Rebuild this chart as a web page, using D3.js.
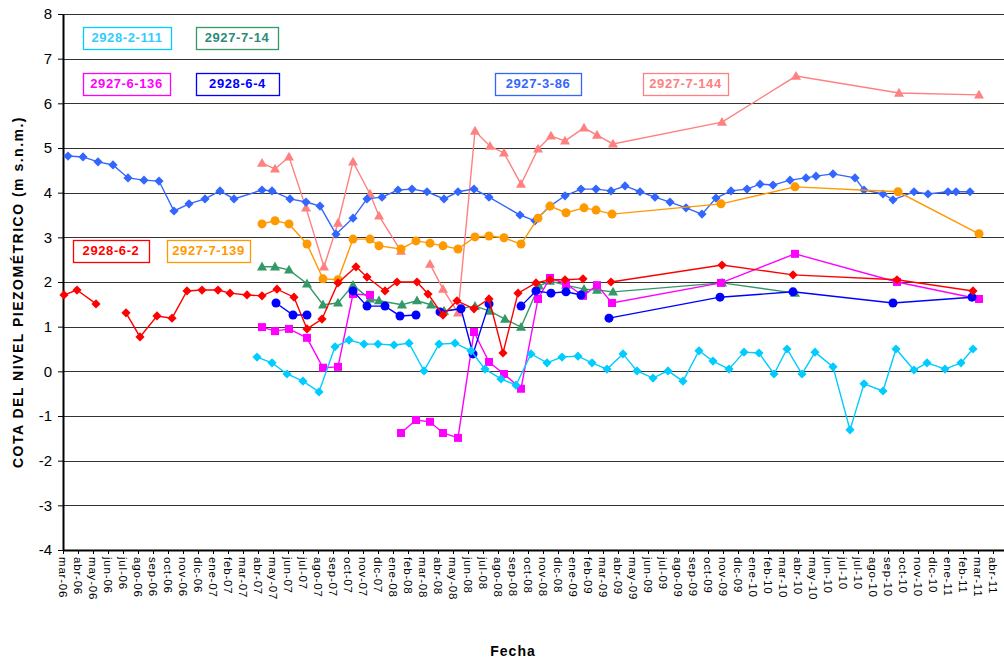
<!DOCTYPE html>
<html>
<head>
<meta charset="utf-8">
<script src="https://cdn.jsdelivr.net/npm/d3@7"></script>
<style>
body { margin: 0; background: #fff; }
svg { display: block; font-family: Arial, "Liberation Sans", sans-serif; }
</style>
</head>
<body>
<div id="main"></div>
<script>
const w = 1004, h = 666
const plotLeft = 63, plotRight = 1004, plotTop = 14, plotBottom = 550

// axis values
const yTicks = d3.range(-4, 9)
const monthNames = ['ene', 'feb', 'mar', 'abr', 'may', 'jun', 'jul', 'ago', 'sep', 'oct', 'nov', 'dic']
const axisStart = '2006-03-24', tickStepDays = 30, tickCount = 63, axisSpanDays = 1882

// series: [fecha, cota]  (null = sin medida)
const s2928_6_2 = [
  ['2006-03-26', 1.71], ['2006-04-21', 1.82], ['2006-05-29', 1.51], ['2006-06-28', null], ['2006-07-28', 1.31],
  ['2006-08-25', 0.77], ['2006-09-28', 1.24], ['2006-10-28', 1.19], ['2006-11-27', 1.80], ['2006-12-27', 1.82],
  ['2007-01-28', 1.82], ['2007-02-21', 1.75], ['2007-03-27', 1.71], ['2007-04-26', 1.69], ['2007-05-26', 1.84],
  ['2007-06-29', 1.66], ['2007-07-25', 0.95], ['2007-08-24', 1.17], ['2007-09-25', 1.98], ['2007-10-31', 2.34],
  ['2007-11-22', 2.11], ['2007-12-28', 1.80], ['2008-01-21', 2.00], ['2008-03-01', 2.00], ['2008-03-23', 1.73],
  ['2008-04-22', 1.26], ['2008-05-20', 1.58], ['2008-06-23', 1.40], ['2008-07-23', 1.62], ['2008-08-20', 0.41],
  ['2008-09-19', 1.75], ['2008-10-25', 1.98], ['2008-11-22', 2.05], ['2008-12-22', 2.05], ['2009-01-27', 2.07],
  ['2009-02-24', null], ['2009-03-24', 2.00], ['2009-11-01', 2.38], ['2010-03-23', 2.16], ['2010-10-17', 2.05],
  ['2011-03-18', 1.80]
]

const s2927_7_139 = [
  ['2007-04-26', 3.30], ['2007-05-22', 3.37], ['2007-06-19', 3.30], ['2007-07-25', 2.85], ['2007-08-26', 2.07],
  ['2007-09-25', 2.05], ['2007-10-25', 2.96], ['2007-11-28', 2.96], ['2007-12-16', 2.81], ['2008-01-29', 2.74],
  ['2008-02-28', 2.92], ['2008-03-27', 2.87], ['2008-04-22', 2.81], ['2008-05-22', 2.74], ['2008-06-25', 3.01],
  ['2008-07-23', 3.03], ['2008-08-22', 2.99], ['2008-09-25', 2.85], ['2008-10-29', 3.43], ['2008-11-22', 3.70],
  ['2008-12-24', 3.55], ['2009-01-29', 3.66], ['2009-02-22', 3.61], ['2009-03-26', 3.52], ['2009-10-30', 3.75],
  ['2010-03-27', 4.13], ['2010-10-19', 4.02], ['2011-03-30', 3.08]
]

const s2927_7_144 = [
  ['2007-04-26', 4.66], ['2007-05-22', 4.53], ['2007-06-19', 4.80], ['2007-07-23', 3.66], ['2007-08-28', 2.34],
  ['2007-09-25', 3.32], ['2007-10-25', 4.69], ['2007-11-28', 3.97], ['2007-12-16', 3.48], ['2008-01-29', 2.69],
  ['2008-02-28', null], ['2008-03-27', 2.40], ['2008-04-22', 1.84], ['2008-05-22', 1.31], ['2008-06-25', 5.38],
  ['2008-07-25', 5.04], ['2008-08-22', 4.89], ['2008-09-25', 4.19], ['2008-10-29', 4.98], ['2008-11-24', 5.27],
  ['2008-12-22', 5.16], ['2009-01-29', 5.45], ['2009-02-24', 5.29], ['2009-03-28', 5.09], ['2009-11-01', 5.58],
  ['2010-03-29', 6.61], ['2010-10-21', 6.23], ['2011-03-30', 6.19]
]

const s2927_7_14 = [
  ['2007-04-26', 2.34], ['2007-05-22', 2.34], ['2007-06-19', 2.27], ['2007-07-25', 1.96], ['2007-08-26', 1.49],
  ['2007-09-25', 1.53], ['2007-10-25', 1.93], ['2007-11-28', 1.62], ['2007-12-16', 1.58], ['2008-01-31', 1.49],
  ['2008-03-01', 1.58], ['2008-03-29', 1.49], ['2008-04-24', 1.35], ['2008-06-25', 1.46], ['2008-07-25', 1.35],
  ['2008-08-24', 1.17], ['2008-09-25', 0.99], ['2008-10-31', 1.91], ['2008-11-22', 2.02], ['2008-12-24', 1.93],
  ['2009-01-29', 1.84], ['2009-02-24', 1.82], ['2009-03-28', 1.78], ['2009-11-01', 1.98], ['2010-03-27', 1.75]
]

const s2928_6_4 = [
  ['2007-05-24', 1.53], ['2007-06-27', 1.26], ['2007-07-25', 1.26], ['2007-08-26', null], ['2007-10-25', 1.80],
  ['2007-11-22', 1.46], ['2007-12-28', 1.46], ['2008-01-27', 1.24], ['2008-02-28', 1.26], ['2008-03-20', null],
  ['2008-04-16', 1.33], ['2008-05-28', 1.40], ['2008-06-21', 0.39], ['2008-07-23', 1.51], ['2008-08-22', null],
  ['2008-09-25', 1.46], ['2008-10-25', 1.80], ['2008-11-24', 1.75], ['2008-12-24', 1.78], ['2009-01-23', 1.71],
  ['2009-02-22', null], ['2009-03-20', 1.19], ['2009-10-28', 1.66], ['2010-03-23', 1.78], ['2010-10-09', 1.53],
  ['2011-03-16', 1.66]
]

const s2927_6_136 = [
  ['2007-04-26', 0.99], ['2007-05-22', 0.90], ['2007-06-19', 0.95], ['2007-07-25', 0.75], ['2007-08-26', 0.08],
  ['2007-09-25', 0.10], ['2007-10-25', 1.73], ['2007-11-28', 1.71], ['2007-12-28', null], ['2008-01-29', -1.38],
  ['2008-02-28', -1.09], ['2008-03-27', -1.13], ['2008-04-22', -1.38], ['2008-05-22', -1.49], ['2008-06-23', 0.88],
  ['2008-07-23', 0.21], ['2008-08-22', -0.06], ['2008-09-25', -0.39], ['2008-10-29', 1.62], ['2008-11-22', 2.09],
  ['2008-12-24', 1.96], ['2009-01-27', 1.69], ['2009-02-24', 1.93], ['2009-03-26', 1.53], ['2009-10-30', 1.98],
  ['2010-03-27', 2.63], ['2010-10-17', 2.00], ['2011-03-30', 1.62]
]

const s2928_2_111 = [
  ['2007-04-16', 0.32], ['2007-05-16', 0.19], ['2007-06-15', -0.06], ['2007-07-17', -0.22], ['2007-08-18', -0.46],
  ['2007-09-19', 0.55], ['2007-10-17', 0.70], ['2007-11-16', 0.61], ['2007-12-14', 0.61], ['2008-01-15', 0.59],
  ['2008-02-14', 0.63], ['2008-03-15', 0.01], ['2008-04-14', 0.61], ['2008-05-16', 0.63], ['2008-06-17', 0.46],
  ['2008-07-15', 0.05], ['2008-08-16', -0.17], ['2008-09-15', -0.31], ['2008-10-15', 0.39], ['2008-11-16', 0.19],
  ['2008-12-16', 0.32], ['2009-01-17', 0.34], ['2009-02-14', 0.19], ['2009-03-16', 0.05], ['2009-04-17', 0.39],
  ['2009-05-15', 0.01], ['2009-06-16', -0.15], ['2009-07-16', 0.01], ['2009-08-15', -0.22], ['2009-09-16', 0.46],
  ['2009-10-14', 0.23], ['2009-11-15', 0.05], ['2009-12-15', 0.43], ['2010-01-14', 0.41], ['2010-02-13', -0.06],
  ['2010-03-11', 0.50], ['2010-04-10', -0.06], ['2010-05-06', 0.43], ['2010-06-11', 0.10], ['2010-07-15', -1.31],
  ['2010-08-12', -0.28], ['2010-09-19', -0.44], ['2010-10-15', 0.50], ['2010-11-20', 0.03], ['2010-12-16', 0.19],
  ['2011-01-21', 0.05], ['2011-02-22', 0.19], ['2011-03-18', 0.50]
]

const s2927_3_86 = [
  ['2006-04-03', 4.82], ['2006-05-03', 4.80], ['2006-06-02', 4.69], ['2006-07-02', 4.62], ['2006-08-01', 4.33],
  ['2006-09-02', 4.28], ['2006-10-02', 4.26], ['2006-11-01', 3.59], ['2006-12-01', 3.75], ['2007-01-02', 3.86],
  ['2007-02-01', 4.04], ['2007-03-01', 3.86], ['2007-04-26', 4.06], ['2007-05-16', 4.04], ['2007-06-21', 3.86],
  ['2007-07-23', 3.79], ['2007-08-20', 3.70], ['2007-09-21', 3.07], ['2007-10-25', 3.43], ['2007-11-22', 3.86],
  ['2007-12-22', 3.90], ['2008-01-23', 4.06], ['2008-02-20', 4.08], ['2008-03-21', 4.02], ['2008-04-24', 3.86],
  ['2008-05-22', 4.02], ['2008-06-23', 4.08], ['2008-07-23', 3.90], ['2008-09-23', 3.50], ['2008-10-23', 3.37],
  ['2008-11-22', 3.70], ['2008-12-22', 3.93], ['2009-01-23', 4.08], ['2009-02-22', 4.08], ['2009-03-24', 4.04],
  ['2009-04-21', 4.15], ['2009-05-21', 4.02], ['2009-06-20', 3.90], ['2009-07-20', 3.79], ['2009-08-21', 3.66],
  ['2009-09-22', 3.52], ['2009-10-20', 3.88], ['2009-11-19', 4.04], ['2009-12-21', 4.08], ['2010-01-16', 4.19],
  ['2010-02-11', 4.17], ['2010-03-17', 4.28], ['2010-04-18', 4.33], ['2010-05-08', 4.37], ['2010-06-11', 4.42],
  ['2010-07-25', 4.33], ['2010-08-12', 4.06], ['2010-09-19', 3.97], ['2010-10-09', 3.84], ['2010-11-20', 4.02],
  ['2010-12-18', 3.97], ['2011-01-27', 4.02], ['2011-02-12', 4.02], ['2011-03-12', 4.02]
]

const series = [
  { name: '2927-7-144', data: s2927_7_144, color: '#ff8080', text: '#ff8080', marker: 'triangle' },
  { name: '2927-3-86', data: s2927_3_86, color: '#3366ff', text: '#3366ff', marker: 'diamond' },
  { name: '2927-7-139', data: s2927_7_139, color: '#ff9900', text: '#ff9900', marker: 'circle' },
  { name: '2927-7-14', data: s2927_7_14, color: '#339966', text: '#2e8b78', marker: 'triangle' },
  { name: '2927-6-136', data: s2927_6_136, color: '#ff00ff', text: '#ff00ff', marker: 'square' },
  { name: '2928-6-4', data: s2928_6_4, color: '#0000ff', text: '#0000ff', marker: 'circle' },
  { name: '2928-2-111', data: s2928_2_111, color: '#00ccff', text: '#33ccff', marker: 'diamond' },
  { name: '2928-6-2', data: s2928_6_2, color: '#ff0000', text: '#ff0000', marker: 'diamond' }
]

// label boxes inside the plot
const boxes = [
  { name: '2928-2-111', x: 83, y: 27, w: 88 },
  { name: '2927-7-14', x: 196, y: 27, w: 82 },
  { name: '2927-6-136', x: 83, y: 73, w: 87 },
  { name: '2928-6-4', x: 196, y: 73, w: 83 },
  { name: '2927-3-86', x: 495, y: 73, w: 86 },
  { name: '2927-7-144', x: 643, y: 73, w: 85 },
  { name: '2928-6-2', x: 73, y: 240, w: 76 },
  { name: '2927-7-139', x: 167, y: 240, w: 83 }
]

const parse = d3.timeParse('%Y-%m-%d')
const start = parse(axisStart)
const tickDates = d3.range(tickCount).map(i => d3.timeDay.offset(start, i * tickStepDays))
const fmt = d => monthNames[d.getMonth()] + '-' + d3.timeFormat('%y')(d)

const xScale = d3.scaleTime()
                .domain([start, d3.timeDay.offset(start, axisSpanDays)])
                .range([plotLeft, plotRight])
const yScale = d3.scaleLinear()
                .domain([-4, 8])
                .range([plotBottom, plotTop])

const svg = d3.select('#main')
            .append('svg')
            .attr('width', w)
            .attr('height', h)

// gridlines
svg.append('g')
    .selectAll('line')
    .data(yTicks.filter(v => v > -4))
    .enter()
    .append('line')
    .attr('x1', plotLeft)
    .attr('x2', plotRight)
    .attr('y1', d => Math.round(yScale(d)) + 0.5)
    .attr('y2', d => Math.round(yScale(d)) + 0.5)
    .attr('stroke', '#333')
    .attr('stroke-width', 1.2)

// axes
const xAxis = d3.axisBottom(xScale)
                .tickValues(tickDates)
                .tickFormat(fmt)
                .tickSize(4)
                .tickSizeOuter(0)
const gx = svg.append('g')
    .attr('transform', 'translate(0,' + plotBottom + ')')
    .call(xAxis)
gx.select('.domain').attr('stroke', '#000').attr('stroke-width', 2)
gx.selectAll('.tick line').attr('stroke', '#000')
gx.selectAll('.tick text')
    .attr('transform', 'rotate(90)')
    .attr('x', 7)
    .attr('y', 0)
    .attr('dy', '0.35em')
    .attr('text-anchor', 'start')
    .style('font-size', '11.5px')
    .style('letter-spacing', '0.8px')
    .attr('fill', '#000')

const yAxis = d3.axisLeft(yScale)
                .tickValues(yTicks)
                .tickFormat(d3.format('d'))
                .tickSize(5)
                .tickPadding(6)
                .tickSizeOuter(0)
const gy = svg.append('g')
    .attr('transform', 'translate(' + plotLeft + ',0)')
    .call(yAxis)
gy.select('.domain').attr('stroke', '#000').attr('stroke-width', 2)
gy.selectAll('.tick line').attr('stroke', '#000')
gy.selectAll('.tick text')
    .style('font-size', '15px')
    .attr('fill', '#000')
    .text(d => d < 0 ? '-' + Math.abs(d) : d)

// markers
const markerPath = {
    diamond: 'M0,-4.6L4.6,0L0,4.6L-4.6,0Z',
    square: 'M-4,-4H4V4H-4Z',
    triangle: 'M0,-5.2L5,3.6H-5Z'
}

const line = d3.line()
    .defined(d => d[1] != null)
    .x(d => xScale(parse(d[0])))
    .y(d => yScale(d[1]))

series.forEach(s => {
    const g = svg.append('g')
    g.append('path')
        .datum(s.data)
        .attr('d', line)
        .attr('fill', 'none')
        .attr('stroke', s.color)
        .attr('stroke-width', 1.4)

    const pts = g.selectAll('.pt')
        .data(s.data.filter(d => d[1] != null))
        .enter()
    if (s.marker == 'circle') {
        pts.append('circle')
            .attr('cx', d => xScale(parse(d[0])))
            .attr('cy', d => yScale(d[1]))
            .attr('r', 4.5)
            .attr('fill', s.color)
    } else {
        pts.append('path')
            .attr('d', markerPath[s.marker])
            .attr('transform', d => 'translate(' + xScale(parse(d[0])) + ',' + yScale(d[1]) + ')')
            .attr('fill', s.color)
    }
})

// label boxes
const byName = {}
series.forEach(s => byName[s.name] = s)
const lg = svg.append('g').attr('id', 'legend')
boxes.forEach(b => {
    const s = byName[b.name]
    lg.append('rect')
        .attr('x', b.x + 0.5)
        .attr('y', b.y + 0.5)
        .attr('width', b.w)
        .attr('height', 22)
        .attr('fill', '#fff')
        .attr('stroke', s.color)
        .attr('stroke-width', 1.3)
    lg.append('text')
        .text(b.name)
        .attr('x', b.x + b.w / 2)
        .attr('y', b.y + 12)
        .attr('text-anchor', 'middle')
        .attr('dominant-baseline', 'middle')
        .attr('fill', s.text)
        .style('font-size', '13px')
        .style('font-weight', 'bold')
        .style('letter-spacing', '0.6px')
})

// titles
svg.append('text')
    .text('COTA DEL NIVEL PIEZOMÉTRICO (m s.n.m.)')
    .attr('transform', 'translate(19,292) rotate(-90)')
    .attr('text-anchor', 'middle')
    .attr('dominant-baseline', 'middle')
    .style('font-size', '14px')
    .style('font-weight', 'bold')
    .style('letter-spacing', '1.5px')

svg.append('text')
    .text('Fecha')
    .attr('x', 513)
    .attr('y', 652)
    .attr('text-anchor', 'middle')
    .attr('dominant-baseline', 'middle')
    .style('font-size', '14px')
    .style('font-weight', 'bold')
    .style('letter-spacing', '1px')
</script>
</body>
</html>
